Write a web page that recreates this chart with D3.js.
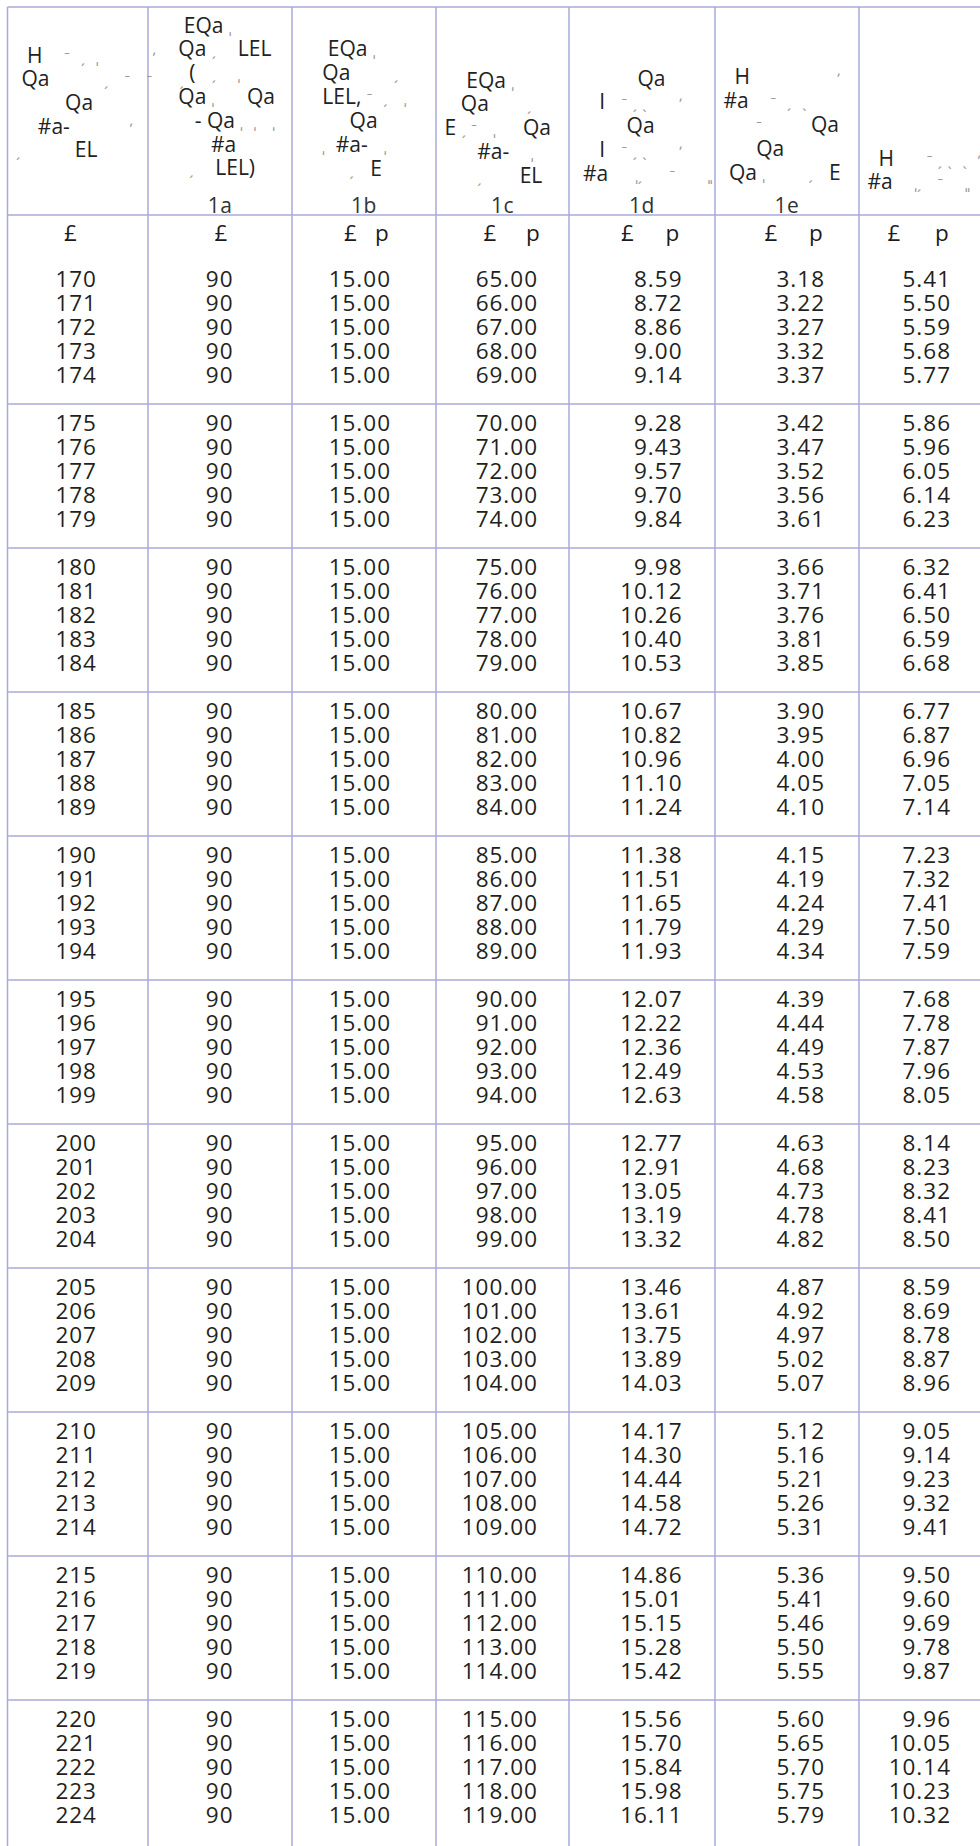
<!DOCTYPE html>
<html>
<head>
<meta charset="utf-8">
<script src="https://d3js.org/d3.v7.min.js"></script>
<style>
  body { margin: 0; background: #fff; }
  text { font-family: "Open Sans", "Noto Sans", sans-serif; }
</style>
</head>
<body>
<div id="table"></div>
<script>
// ---- data ----
const poundsCol = [170,171,172,173,174,175,176,177,178,179,180,181,182,183,184,185,186,187,188,189,
  190,191,192,193,194,195,196,197,198,199,200,201,202,203,204,205,206,207,208,209,
  210,211,212,213,214,215,216,217,218,219,220,221,222,223,224];
const col1a = [90,90,90,90,90,90,90,90,90,90,90,90,90,90,90,90,90,90,90,90,90,90,90,90,90,90,90,90,
  90,90,90,90,90,90,90,90,90,90,90,90,90,90,90,90,90,90,90,90,90,90,90,90,90,90,90];
const col1b = ["15.00","15.00","15.00","15.00","15.00","15.00","15.00","15.00","15.00","15.00","15.00",
  "15.00","15.00","15.00","15.00","15.00","15.00","15.00","15.00","15.00","15.00","15.00","15.00",
  "15.00","15.00","15.00","15.00","15.00","15.00","15.00","15.00","15.00","15.00","15.00","15.00",
  "15.00","15.00","15.00","15.00","15.00","15.00","15.00","15.00","15.00","15.00","15.00","15.00",
  "15.00","15.00","15.00","15.00","15.00","15.00","15.00","15.00"];
const col1c = ["65.00","66.00","67.00","68.00","69.00","70.00","71.00","72.00","73.00","74.00",
  "75.00","76.00","77.00","78.00","79.00","80.00","81.00","82.00","83.00","84.00",
  "85.00","86.00","87.00","88.00","89.00","90.00","91.00","92.00","93.00","94.00",
  "95.00","96.00","97.00","98.00","99.00","100.00","101.00","102.00","103.00","104.00",
  "105.00","106.00","107.00","108.00","109.00","110.00","111.00","112.00","113.00","114.00",
  "115.00","116.00","117.00","118.00","119.00"];
const col1d = ["8.59","8.72","8.86","9.00","9.14","9.28","9.43","9.57","9.70","9.84",
  "9.98","10.12","10.26","10.40","10.53","10.67","10.82","10.96","11.10","11.24",
  "11.38","11.51","11.65","11.79","11.93","12.07","12.22","12.36","12.49","12.63",
  "12.77","12.91","13.05","13.19","13.32","13.46","13.61","13.75","13.89","14.03",
  "14.17","14.30","14.44","14.58","14.72","14.86","15.01","15.15","15.28","15.42",
  "15.56","15.70","15.84","15.98","16.11"];
const col1e = ["3.18","3.22","3.27","3.32","3.37","3.42","3.47","3.52","3.56","3.61",
  "3.66","3.71","3.76","3.81","3.85","3.90","3.95","4.00","4.05","4.10",
  "4.15","4.19","4.24","4.29","4.34","4.39","4.44","4.49","4.53","4.58",
  "4.63","4.68","4.73","4.78","4.82","4.87","4.92","4.97","5.02","5.07",
  "5.12","5.16","5.21","5.26","5.31","5.36","5.41","5.46","5.50","5.55",
  "5.60","5.65","5.70","5.75","5.79"];
const colLast = ["5.41","5.50","5.59","5.68","5.77","5.86","5.96","6.05","6.14","6.23",
  "6.32","6.41","6.50","6.59","6.68","6.77","6.87","6.96","7.05","7.14",
  "7.23","7.32","7.41","7.50","7.59","7.68","7.78","7.87","7.96","8.05",
  "8.14","8.23","8.32","8.41","8.50","8.59","8.69","8.78","8.87","8.96",
  "9.05","9.14","9.23","9.32","9.41","9.50","9.60","9.69","9.78","9.87",
  "9.96","10.05","10.14","10.23","10.32"];

const columns = [poundsCol, col1a, col1b, col1c, col1d, col1e, colLast];
const subLabels = ["", "1a", "1b", "1c", "1d", "1e", ""];
const unitLabels = [["£"], ["£"], ["£", "p"], ["£", "p"], ["£", "p"], ["£", "p"], ["£", "p"]];

// header text as it comes out of the source (broken glyphs)
const headerLines = [
  ["  H    ˉ  ˏ  ˌ          ʹ", " Qa          ˏ   ˉ   ˉ     ˏ", "         Qa", "    #a-           ʹ", "ˏ          EL"],
  ["     EQa ˌ", "    Qa ˏ    LEL", "      (   ˏ    ˌ", "    Qa ˌ      Qa", "       - Qa ˌ  ˌ   ˌ", "          #a", "      ˏ    LEL)"],
  ["     EQa ˌ", "    Qa        ˏ", "    LEL, ˉ  ˏ   ˌ", "         Qa", "    ˌ  #a-   ˌ", "         ˏ   E"],
  ["    EQa ˌ", "   Qa       ˏ", "E ˏ ˉ   ˌ     Qa", "      #a-    ˌ", "      ˏ       EL"],
  ["           Qa", "    I   ˉ ˏ ˎ      ʹ", "         Qa", "    I   ˉ ˏ ˎ      ʹ", " #a     ˌˏ     ˉ      ˌˌ"],
  ["  H                ʹ", "#a    ˉ  ˏ  ˎ", "      ˉ         Qa", "      Qa", " Qa ˌ        ˏ   E"],
  ["  H      ˉ ˏ ˎ  ˎ  ʹ", "#a    ˌˏ   ˉ    ˌˌ"]
];

// ---- layout ----
const width = 980, height = 1846;
const lineColor = "#a8aad8";
const colEdges = [7.5, 148, 292, 436, 569, 715, 859];
const numEnd = [97, 233.5, 391, 538, 682.5, 825, 951];
const poundX = [70.5, 221, 350.5, 490, 627.5, 771, 894];
const penceX = [null, null, 382, 533, 672.5, 816, 942];
const headFirstY = [55, 25, 48, 80, 78, 76, 158];
const headPitch = [23.7, 23.8, 24, 23.8, 23.8, 24, 23];

const svg = d3.select("#table").append("svg")
  .attr("width", width).attr("height", height);

const colIdx = d3.range(columns.length);
const xEnd = d3.scaleOrdinal().domain(colIdx).range(numEnd);
const groupY = d3.scaleLinear().domain([0, 10]).range([287, 1727]);
const inGroupY = d3.scaleLinear().domain([0, 4]).range([0, 96]);
const sepY = d3.scaleLinear().domain([0, 9]).range([404, 1700]);
const rowY = i => groupY(Math.floor(i / 5)) + inGroupY(i % 5);

// grid lines
const grid = svg.append("g").attr("stroke", lineColor).attr("stroke-width", 1.5);
grid.append("line").attr("x1", 7.5).attr("x2", width).attr("y1", 7).attr("y2", 7);
grid.append("line").attr("x1", 7.5).attr("x2", width).attr("y1", 215).attr("y2", 215);
grid.selectAll(".sep").data(d3.range(10)).join("line")
  .attr("class", "sep")
  .attr("x1", 7.5).attr("x2", width)
  .attr("y1", d => sepY(d)).attr("y2", d => sepY(d));
grid.selectAll(".vl").data(colEdges).join("line")
  .attr("class", "vl")
  .attr("x1", d => d).attr("x2", d => d)
  .attr("y1", 7).attr("y2", height);

// header garbled text
const marks = /([ˏˌˉʹˎ]+)/;
colIdx.forEach(c => {
  const g = svg.append("g");
  headerLines[c].forEach((line, li) => {
    const t = g.append("text")
      .attr("x", colEdges[c] + 8.5)
      .attr("y", headFirstY[c] + li * headPitch[c] + 7.5)
      .attr("xml:space", "preserve")
      .style("white-space", "pre")
      .attr("font-size", 21)
      .attr("fill", "#222");
    line.split(marks).forEach(part => {
      if (!part) return;
      const isMark = marks.test(part);
      t.append("tspan")
        .attr("fill", isMark ? "#9a9a9a" : "#222")
        .attr("font-size", isMark ? 15 : 21)
        .text(part);
    });
  });
});

// sub labels 1a..1e
svg.selectAll(".sub").data(colIdx.filter(c => subLabels[c])).join("text")
  .attr("class", "sub")
  .attr("x", c => (colEdges[c] + colEdges[c + 1]) / 2)
  .attr("y", 213)
  .attr("text-anchor", "middle")
  .attr("font-size", 21)
  .attr("fill", "#333")
  .attr("letter-spacing", 0.5)
  .text(c => subLabels[c]);

// unit row
colIdx.forEach(c => {
  const xs = [poundX[c], penceX[c]];
  unitLabels[c].forEach((u, k) => {
    svg.append("text")
      .attr("x", xs[k]).attr("y", 241)
      .attr("text-anchor", "middle")
      .attr("font-size", 22.5)
      .attr("font-weight", 500)
      .attr("fill", "#1c1a1b")
      .text(u);
  });
});

// values
colIdx.forEach(c => {
  svg.append("g").selectAll("text").data(columns[c]).join("text")
    .attr("x", xEnd(c))
    .attr("y", (d, i) => rowY(i))
    .attr("text-anchor", "end")
    .attr("font-size", 22.5)
    .attr("letter-spacing", 1)
    .attr("fill", "#231f20")
    .text(d => d);
});
</script>
</body>
</html>
